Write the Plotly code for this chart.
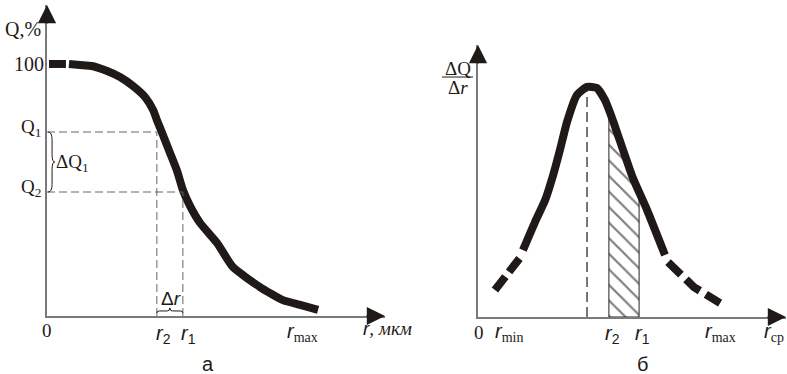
import numpy as np
import plotly.graph_objects as go

# ---------------- Panel "а": cumulative curve Q(r) ----------------
A_CAP_X = [0.06, 0.56]
A_CAP_Y = [100, 100]
A_X = [0.65, 0.98, 1.33, 1.78, 2.16, 2.54, 2.90, 3.14, 3.25, 3.43, 3.64, 3.85, 4.02,
       4.23, 4.53, 5.03, 5.50, 6.30, 6.98, 7.49, 8.02]
A_Y = [100, 99.6, 99.2, 97.2, 94.8, 91.3, 86.9, 81.7, 77.8, 71.8, 64.7, 57.5, 50.0,
       43.7, 36.9, 29.0, 19.4, 11.5, 6.3, 4.4, 2.4]
A_R2, A_R1, A_RMAX = 3.25, 4.02, 7.49
A_Q1, A_Q2 = 73.0, 49.2

# ---------------- Panel "б": distribution dQ/dr ----------------
B_TAIL_L_X = [0.55, 1.36]
B_TAIL_L_Y = [9.9, 21.7]
B_X = [1.46, 1.85, 2.18, 2.44, 2.66, 2.89, 3.21, 3.54, 3.86, 4.12, 4.35, 4.61, 5.03,
       5.49, 6.07]
B_Y = [24.6, 34.9, 43.0, 52.2, 61.4, 71.7, 81.6, 84.6, 84.2, 79.8, 73.2, 64.7, 51.1,
       39.3, 22.8]
B_TAIL_R_X = [6.17, 7.01, 7.86]
B_TAIL_R_Y = [20.2, 11.0, 5.1]
B_PEAK = 3.54
B_RMIN, B_R2, B_R1, B_RMAX, B_RCP = 0.88, 4.25, 5.23, 7.76, 9.58

W, H = 787, 374
INK = "#1f1a17"
AX = "#7a7a7a"
SERIF = "Liberation Serif"
SANS = "Liberation Sans"

fig = go.Figure()

# panel а curve
fig.add_trace(go.Scatter(x=A_CAP_X, y=A_CAP_Y, mode="lines",
                         line=dict(color=INK, width=8), xaxis="x", yaxis="y"))
fig.add_trace(go.Scatter(x=A_X, y=A_Y, mode="lines",
                         line=dict(color=INK, width=8, shape="spline", smoothing=0.5),
                         xaxis="x", yaxis="y"))

# panel б hatched area between r2 and r1
bx = np.array(B_X)
by = np.array(B_Y)
inside = (bx > B_R2) & (bx < B_R1)
hx = [B_R2] + list(bx[inside]) + [B_R1, B_R1, B_R2, B_R2]
hy = ([float(np.interp(B_R2, bx, by))] + list(by[inside]) +
      [float(np.interp(B_R1, bx, by)), 0, 0, float(np.interp(B_R2, bx, by))])
fig.add_trace(go.Scatter(x=hx, y=hy, mode="lines", fill="toself",
                         fillcolor="white",
                         fillpattern=dict(shape="\\", fgcolor="#000", bgcolor="white",
                                          size=11, solidity=0.2),
                         line=dict(color="#222", width=1), xaxis="x2", yaxis="y2"))

# panel б curve
fig.add_trace(go.Scatter(x=B_TAIL_L_X, y=B_TAIL_L_Y, mode="lines",
                         line=dict(color=INK, width=8, dash="17px,6px"),
                         xaxis="x2", yaxis="y2"))
fig.add_trace(go.Scatter(x=B_X, y=B_Y, mode="lines",
                         line=dict(color=INK, width=8, shape="spline", smoothing=0.5),
                         xaxis="x2", yaxis="y2"))
fig.add_trace(go.Scatter(x=B_TAIL_R_X, y=B_TAIL_R_Y, mode="lines",
                         line=dict(color=INK, width=8, dash="18px,7px"),
                         xaxis="x2", yaxis="y2"))

shapes = []
dash_grey = dict(color="#666", width=1, dash="8px,4px")
# panel а guide lines
shapes += [
    dict(type="line", xref="x", yref="y", x0=0, x1=A_R2, y0=A_Q1, y1=A_Q1, line=dash_grey),
    dict(type="line", xref="x", yref="y", x0=A_R2, x1=A_R2, y0=0, y1=A_Q1, line=dash_grey),
    dict(type="line", xref="x", yref="y", x0=0, x1=A_R1, y0=A_Q2, y1=A_Q2, line=dash_grey),
    dict(type="line", xref="x", yref="y", x0=A_R1, x1=A_R1, y0=0, y1=A_Q2, line=dash_grey),
]
# brace for ΔQ1
mid = (A_Q1 + A_Q2) / 2
x0, x1, xt = 0.03, 0.15, 0.23
brace_q = (f"M {x0},{A_Q1} Q {x1},{A_Q1} {x1},{A_Q1-3} L {x1},{mid+3} "
           f"Q {x1},{mid} {xt},{mid} Q {x1},{mid} {x1},{mid-3} L {x1},{A_Q2+3} "
           f"Q {x1},{A_Q2} {x0},{A_Q2}")
shapes.append(dict(type="path", xref="x", yref="y", path=brace_q,
                   line=dict(color=INK, width=1)))
# brace for Δr
rm = (A_R2 + A_R1) / 2
ye, yb, ytip = 1.2, 2.0, 3.2
brace_r = (f"M {A_R2},{ye} Q {A_R2},{yb} {A_R2+0.08},{yb} L {rm-0.08},{yb} "
           f"Q {rm},{yb} {rm},{ytip} Q {rm},{yb} {rm+0.08},{yb} L {A_R1-0.08},{yb} "
           f"Q {A_R1},{yb} {A_R1},{ye}")
shapes.append(dict(type="path", xref="x", yref="y", path=brace_r,
                   line=dict(color=INK, width=1)))
# panel б peak dashed line
shapes.append(dict(type="line", xref="x2", yref="y2", x0=B_PEAK, x1=B_PEAK, y0=0, y1=83,
                   line=dict(color=INK, width=1.2, dash="10px,5px")))
# fraction bar of ΔQ/Δr
shapes.append(dict(type="line", xref="paper", yref="paper", x0=442 / W, x1=473 / W,
                   y0=1 - 77 / H, y1=1 - 77 / H, line=dict(color=INK, width=1)))


def lab(text, px, py, size=17, family=SERIF, xanchor="center"):
    return dict(text=text, x=px / W, y=1 - py / H, xref="paper", yref="paper",
                showarrow=False, xanchor=xanchor, yanchor="middle",
                font=dict(size=size, family=family, color=INK))


def r_lab(sub, px, py, sub_serif=False):
    if sub_serif:
        t = (f"<i>r</i><sub><span style='font-family:{SERIF}'>{sub}</span></sub>")
    else:
        t = f"<i>r</i><sub>{sub}</sub>"
    return lab(t, px, py, size=20, family=SANS)


annotations = [
    lab("Q,%", 23, 29, 20),
    lab("100", 29, 64, 20),
    lab("Q<sub>1</sub>", 31, 128, 19),
    lab("Q<sub>2</sub>", 31, 188, 19),
    lab("ΔQ<sub>1</sub>", 72, 163, 19),
    lab("0", 47, 330, 19),
    lab("Δ<i>r</i>", 171, 298, 19, SANS),
    r_lab("2", 163, 334),
    r_lab("1", 188, 334),
    r_lab("max", 302, 332, True),
    lab(f"<i>r</i><span style='font-family:{SERIF}'><i>, мкм</i></span>", 361, 328, 19,
        SANS, "left"),
    lab("а", 208, 364, 20, SANS),
    lab("ΔQ", 458, 69, 19),
    lab("Δ<i>r</i>", 458, 87, 19),
    lab("0", 479, 332, 19),
    r_lab("min", 509, 332, True),
    r_lab("2", 612, 334),
    r_lab("1", 642, 334),
    r_lab("max", 720, 332, True),
    r_lab("ср", 774, 332, True),
    lab("б", 642, 364, 20, SANS),
]

# axis arrowheads
arrow = dict(showarrow=True, arrowhead=2, arrowsize=2.6, arrowwidth=1.4,
             arrowcolor=INK, text="", standoff=0)
annotations += [
    dict(x=10, y=0, xref="x", yref="y", ax=-20, ay=0, **arrow),
    dict(x=0, y=123.4, xref="x", yref="y", ax=0, ay=20, **arrow),
    dict(x=10, y=0, xref="x2", yref="y2", ax=-20, ay=0, **arrow),
    dict(x=0, y=100, xref="x2", yref="y2", ax=0, ay=20, **arrow),
]

axis_common = dict(showgrid=False, zeroline=False, showticklabels=False, ticks="",
                   showline=True, linecolor=AX, linewidth=1.5, fixedrange=True)

fig.update_layout(
    width=W, height=H, margin=dict(l=0, r=0, t=0, b=0),
    paper_bgcolor="white", plot_bgcolor="white", showlegend=False,
    xaxis=dict(domain=[47 / W, 385 / W], range=[0, 10], anchor="y", **axis_common),
    yaxis=dict(domain=[58 / H, 369 / H], range=[0, 123.4], anchor="x", **axis_common),
    xaxis2=dict(domain=[478 / W, 786 / W], range=[0, 10], anchor="y2", **axis_common),
    yaxis2=dict(domain=[57 / H, 329 / H], range=[0, 100], anchor="x2", **axis_common),
    shapes=shapes, annotations=annotations,
)

fig.write_html("out.html", config={"displayModeBar": False},
               post_script="document.body.style.margin='0';"
                           "document.body.style.overflow='hidden';")
